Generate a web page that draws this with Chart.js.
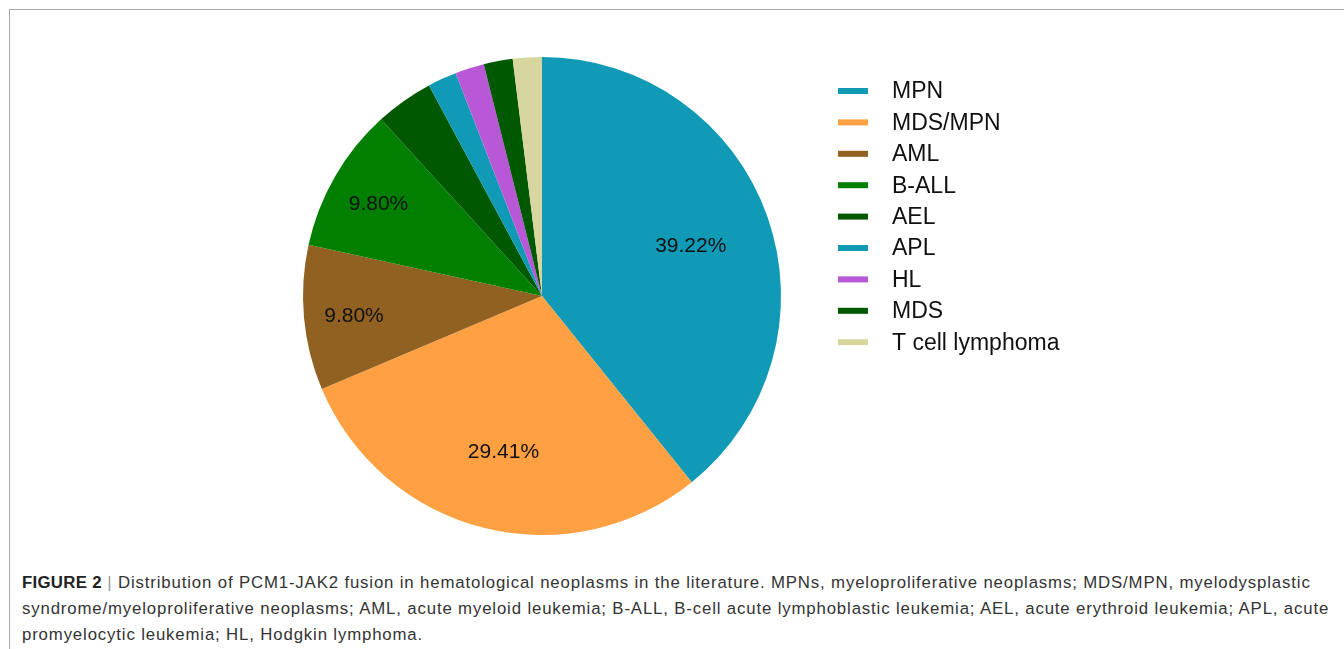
<!DOCTYPE html>
<html>
<head>
<meta charset="utf-8">
<script src="https://cdn.jsdelivr.net/npm/chart.js@4"></script>
<style>
    body { margin: 0; background: #ffffff; width: 1344px; height: 649px; overflow: hidden; position: relative; font-family: "Liberation Sans", Arial, sans-serif; }
    .marco { position: absolute; left: 9px; top: 9px; width: 1400px; height: 700px; border-top: 1px solid #a8a8a8; border-left: 1px solid #a8a8a8; }
    .grafico { position: absolute; left: 0; top: 0; width: 1344px; height: 560px; }
    .leyenda-fig { position: absolute; left: 22px; top: 570px; font-size: 16.8px; letter-spacing: 0.85px; line-height: 26px; color: #333333; white-space: nowrap; }
    .leyenda-fig b { color: #222222; letter-spacing: 0.3px; }
    .barra { color: #999999; }
</style>
</head>
<body>
<div class="marco"></div>
<div class="grafico"><canvas id="grafico_1"></canvas></div>
<div class="leyenda-fig">
    <div><b>FIGURE 2</b> <span class="barra">|</span> Distribution of PCM1-JAK2 fusion in hematological neoplasms in the literature. MPNs, myeloproliferative neoplasms; MDS/MPN, myelodysplastic</div>
    <div>syndrome/myeloproliferative neoplasms; AML, acute myeloid leukemia; B-ALL, B-cell acute lymphoblastic leukemia; AEL, acute erythroid leukemia; APL, acute</div>
    <div>promyelocytic leukemia; HL, Hodgkin lymphoma.</div>
</div>
<script>
const categorias = ['MPN', 'MDS/MPN', 'AML', 'B-ALL', 'AEL', 'APL', 'HL', 'MDS', 'T cell lymphoma'];
const porcentajes = [39.22, 29.41, 9.80, 9.80, 3.92, 1.96, 1.96, 1.96, 1.96];
const colores = ['#119ab6', '#ffa042', '#916122', '#007f00', '#005900', '#119ab6', '#b858d6', '#005900', '#d6d69e'];

// etiquetas de porcentaje dentro de las porciones grandes
const etiquetas = {
    id: 'etiquetas',
    afterDatasetsDraw(chart) {
        const ctx = chart.ctx;
        const meta = chart.getDatasetMeta(0);
        ctx.save();
        ctx.font = '21px "Liberation Sans", Arial, sans-serif';
        ctx.fillStyle = '#111111';
        ctx.textAlign = 'center';
        ctx.textBaseline = 'middle';
        meta.data.forEach(function (arc, i) {
            const valor = porcentajes[i];
            if (valor < 5) return;
            const ang = (arc.startAngle + arc.endAngle) / 2;
            const f = valor > 20 ? 0.66 : 0.79;
            const r = arc.outerRadius * f;
            ctx.fillText(valor.toFixed(2) + '%', arc.x + Math.cos(ang) * r, arc.y + Math.sin(ang) * r + 3);
        });
        ctx.restore();
    }
};

// leyenda con lineas a la derecha
const leyenda = {
    id: 'leyenda',
    afterDraw(chart) {
        const ctx = chart.ctx;
        ctx.save();
        ctx.font = '23px "Liberation Sans", Arial, sans-serif';
        ctx.textBaseline = 'middle';
        categorias.forEach(function (nombre, i) {
            const y = 91 + i * 31.4;
            ctx.fillStyle = colores[i];
            ctx.fillRect(838, y - 3, 30, 6);
            ctx.fillStyle = '#111111';
            ctx.fillText(nombre, 892, y + 1);
        });
        ctx.restore();
    }
};

document.addEventListener('DOMContentLoaded', function () {
    const grafico_1 = document.getElementById("grafico_1").getContext("2d");
    const myChart = new Chart(grafico_1, {
        type: "pie",
        data: {
            labels: categorias,
            datasets: [{
                data: porcentajes,
                backgroundColor: colores,
                borderWidth: 0
            }]
        },
        options: {
            responsive: true,
            maintainAspectRatio: false,
            animation: false,
            layout: {
                padding: { left: 303, right: 563, top: 57, bottom: 25 }
            },
            plugins: {
                legend: { display: false },
                tooltip: { enabled: false }
            }
        },
        plugins: [etiquetas, leyenda]
    });
});
</script>
</body>
</html>
